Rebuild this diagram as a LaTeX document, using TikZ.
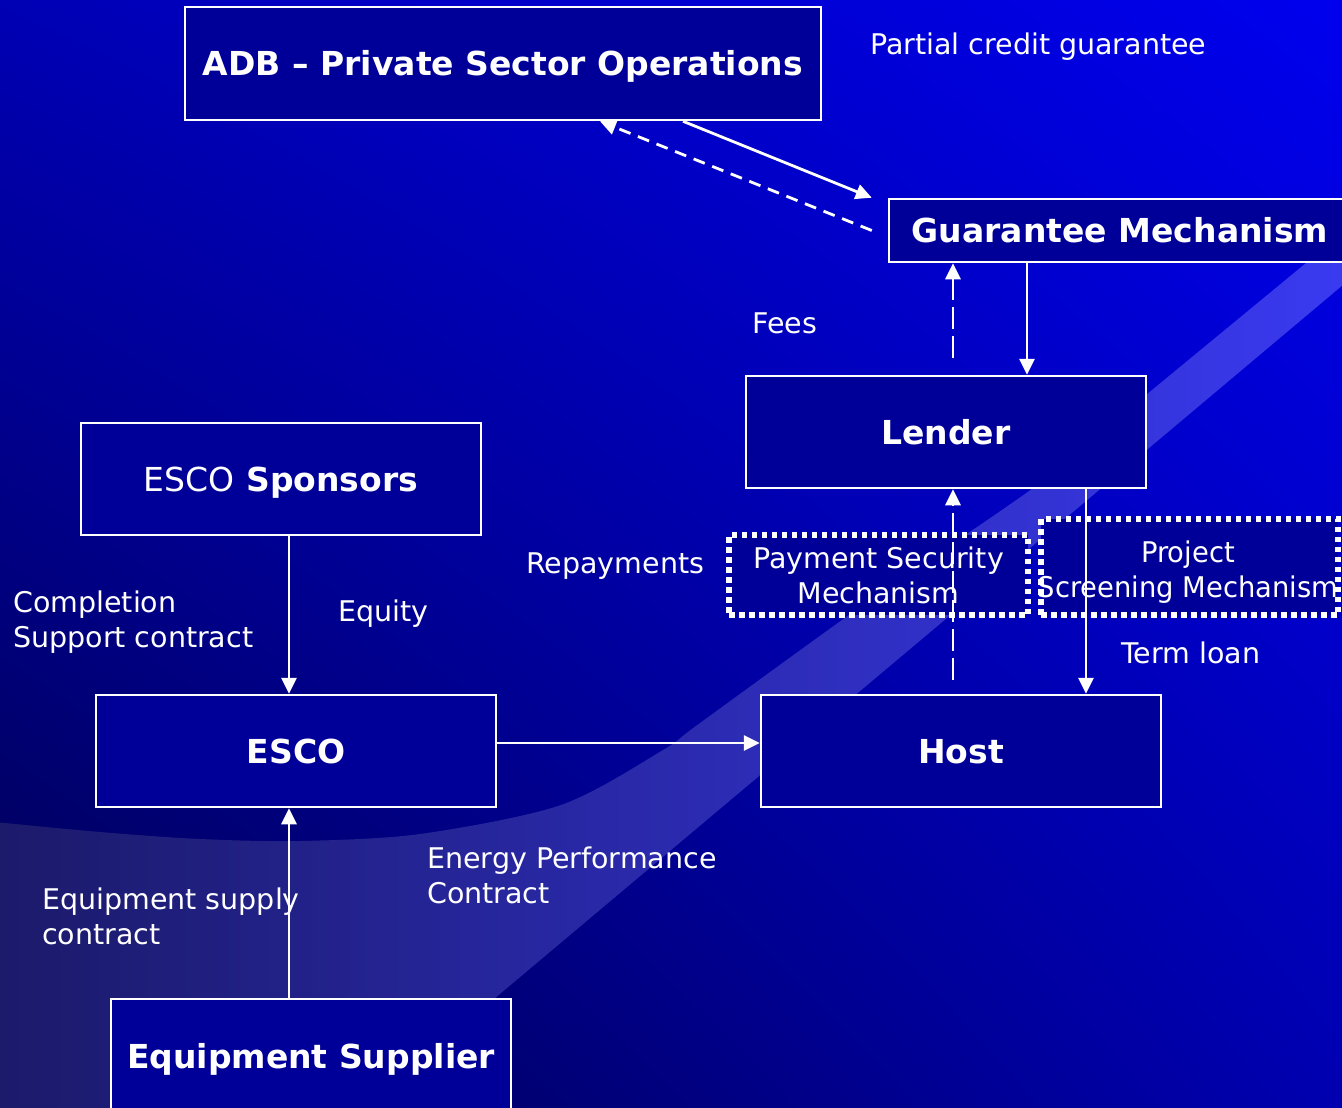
\documentclass[tikz,border=0pt]{standalone}
\usepackage{fontspec}
\setmainfont{DejaVu Sans}
\newfontfamily\narrowfont[FakeStretch=0.96]{DejaVu Sans}
\usetikzlibrary{arrows.meta,calc,shadings}
\definecolor{boxfill}{RGB}{0,0,153}
\definecolor{bgUL}{RGB}{0,0,180}
\definecolor{bgUR}{RGB}{0,0,238}
\definecolor{bgLL}{RGB}{0,0,76}
\definecolor{bgLR}{RGB}{0,0,176}
\definecolor{swA}{RGB}{27,26,106}
\definecolor{swB}{RGB}{58,58,242}
\begin{document}
\begin{tikzpicture}[x=1pt,y=-1pt,
 box/.style={draw=white,line width=2.5pt,fill=boxfill,inner sep=0pt,text=white,
   font=\bfseries\fontsize{33}{40}\selectfont,text height=24pt,text depth=0pt,
   minimum width=400pt,minimum height=112pt},
 dotbox/.style={draw=white,line width=5.5pt,dash pattern=on 5.5pt off 4.5pt,fill=boxfill,
   inner sep=0pt,text=white,font=\fontsize{28.5}{35}\selectfont,align=center},
 lbl/.style={text=white,font=\fontsize{28.5}{35}\selectfont,inner sep=0pt,align=left,anchor=base west},
 arr/.style={draw=white,line width=2.8pt,-{Triangle[length=16pt,width=15pt]}},
 dsh/.style={arr,dash pattern=on 22pt off 7pt}]
\useasboundingbox (0,0) rectangle (1342,1108);
% background
\shade[upper left=bgUL,upper right=bgUR,lower left=bgLL,lower right=bgLR] (0,0) rectangle (1342,1108);
% swoosh
\shade[left color=swA,right color=swB] plot[smooth] coordinates {(-5,822) (100,832) (200,839) (300,841) (420,834) (561,805) (663,750) (700,723) (870,600) (1040,483) (1146,395) (1306,263) (1350,226)} -- (1350,279) -- (362,1110) -- (-5,1110) -- cycle;
% boxes
\node[box,minimum width=636pt,minimum height=113pt] (adb) at (503,63.5) {ADB – Private Sector Operations};
\node[box,minimum width=462pt,minimum height=63pt] (g) at (1120,230.5) {Guarantee Mechanism};
\node[box] (lender) at (946,432) {Lender};
\node[box] (spons) at (281,479) {{\mdseries ESCO} Sponsors};
\node[box] (esco) at (296,751) {ESCO};
\node[box] (host) at (961,751) {Host};
\node[box,minimum height=114pt] (eqs) at (311,1056) {Equipment Supplier};
\node[dotbox,minimum width=299pt,minimum height=80pt] (psm) at (878.5,575) {Payment Security\\Mechanism};
\node[dotbox,minimum width=297pt,minimum height=96pt] (psc) at (1189.5,567) {};
\node[text=white,font=\narrowfont\fontsize{28.5}{35}\selectfont,inner sep=0pt,align=center,anchor=base] (psct) at (1188,597) {Project\\Screening Mechanism};
% labels
\node[lbl] (l1) at (870,55) {Partial credit guarantee};
\node[lbl] (l2) at (752,333) {Fees};
\node[lbl] (l3) at (526,573) {Repayments};
\node[lbl] (l4) at (13,647) {Completion\\Support contract};
\node[lbl] (l5) at (338,621) {Equity};
\node[lbl] (l6) at (1121,663) {Term loan};
\node[lbl] (l7) at (427,903) {Energy Performance\\Contract};
\node[lbl] (l8) at (42,944) {Equipment supply\\contract};
% connectors
\coordinate (adbA) at ($(adb.south)+(180,0)$);
\coordinate (gA) at ($(g.north west)+(-16,0)$);
\draw[arr] (adbA) -- (gA);
\coordinate (gB) at ($(g.west)+(-16,0)$);
\coordinate (adbB) at ($(adb.south)+(97,0)$);
\draw[arr,dash pattern=on 12pt off 8pt] (gB) -- (adbB);
\coordinate (feesS) at (953,358);
\draw[dsh] (feesS) -- (feesS |- g.south);
\coordinate (lenA) at ($(lender.north)+(81,0)$);
\draw[arr] (lenA |- g.south) -- (lenA);
\coordinate (repS) at (953,680);
\draw[dsh] (repS) -- (repS |- lender.south);
\coordinate (hostA) at ($(host.north)+(125,0)$);
\draw[arr] (hostA |- lender.south) -- (hostA);
\coordinate (escoA) at ($(esco.north)+(-7,0)$);
\draw[arr] (escoA |- spons.south) -- (escoA);
\coordinate (escoB) at ($(esco.south)+(-7,0)$);
\draw[arr] (escoB |- eqs.north) -- (escoB);
\coordinate (escoC) at ($(esco.east)+(0,-8)$);
\draw[arr] (escoC) -- (escoC -| host.west);
\end{tikzpicture}
\end{document}
